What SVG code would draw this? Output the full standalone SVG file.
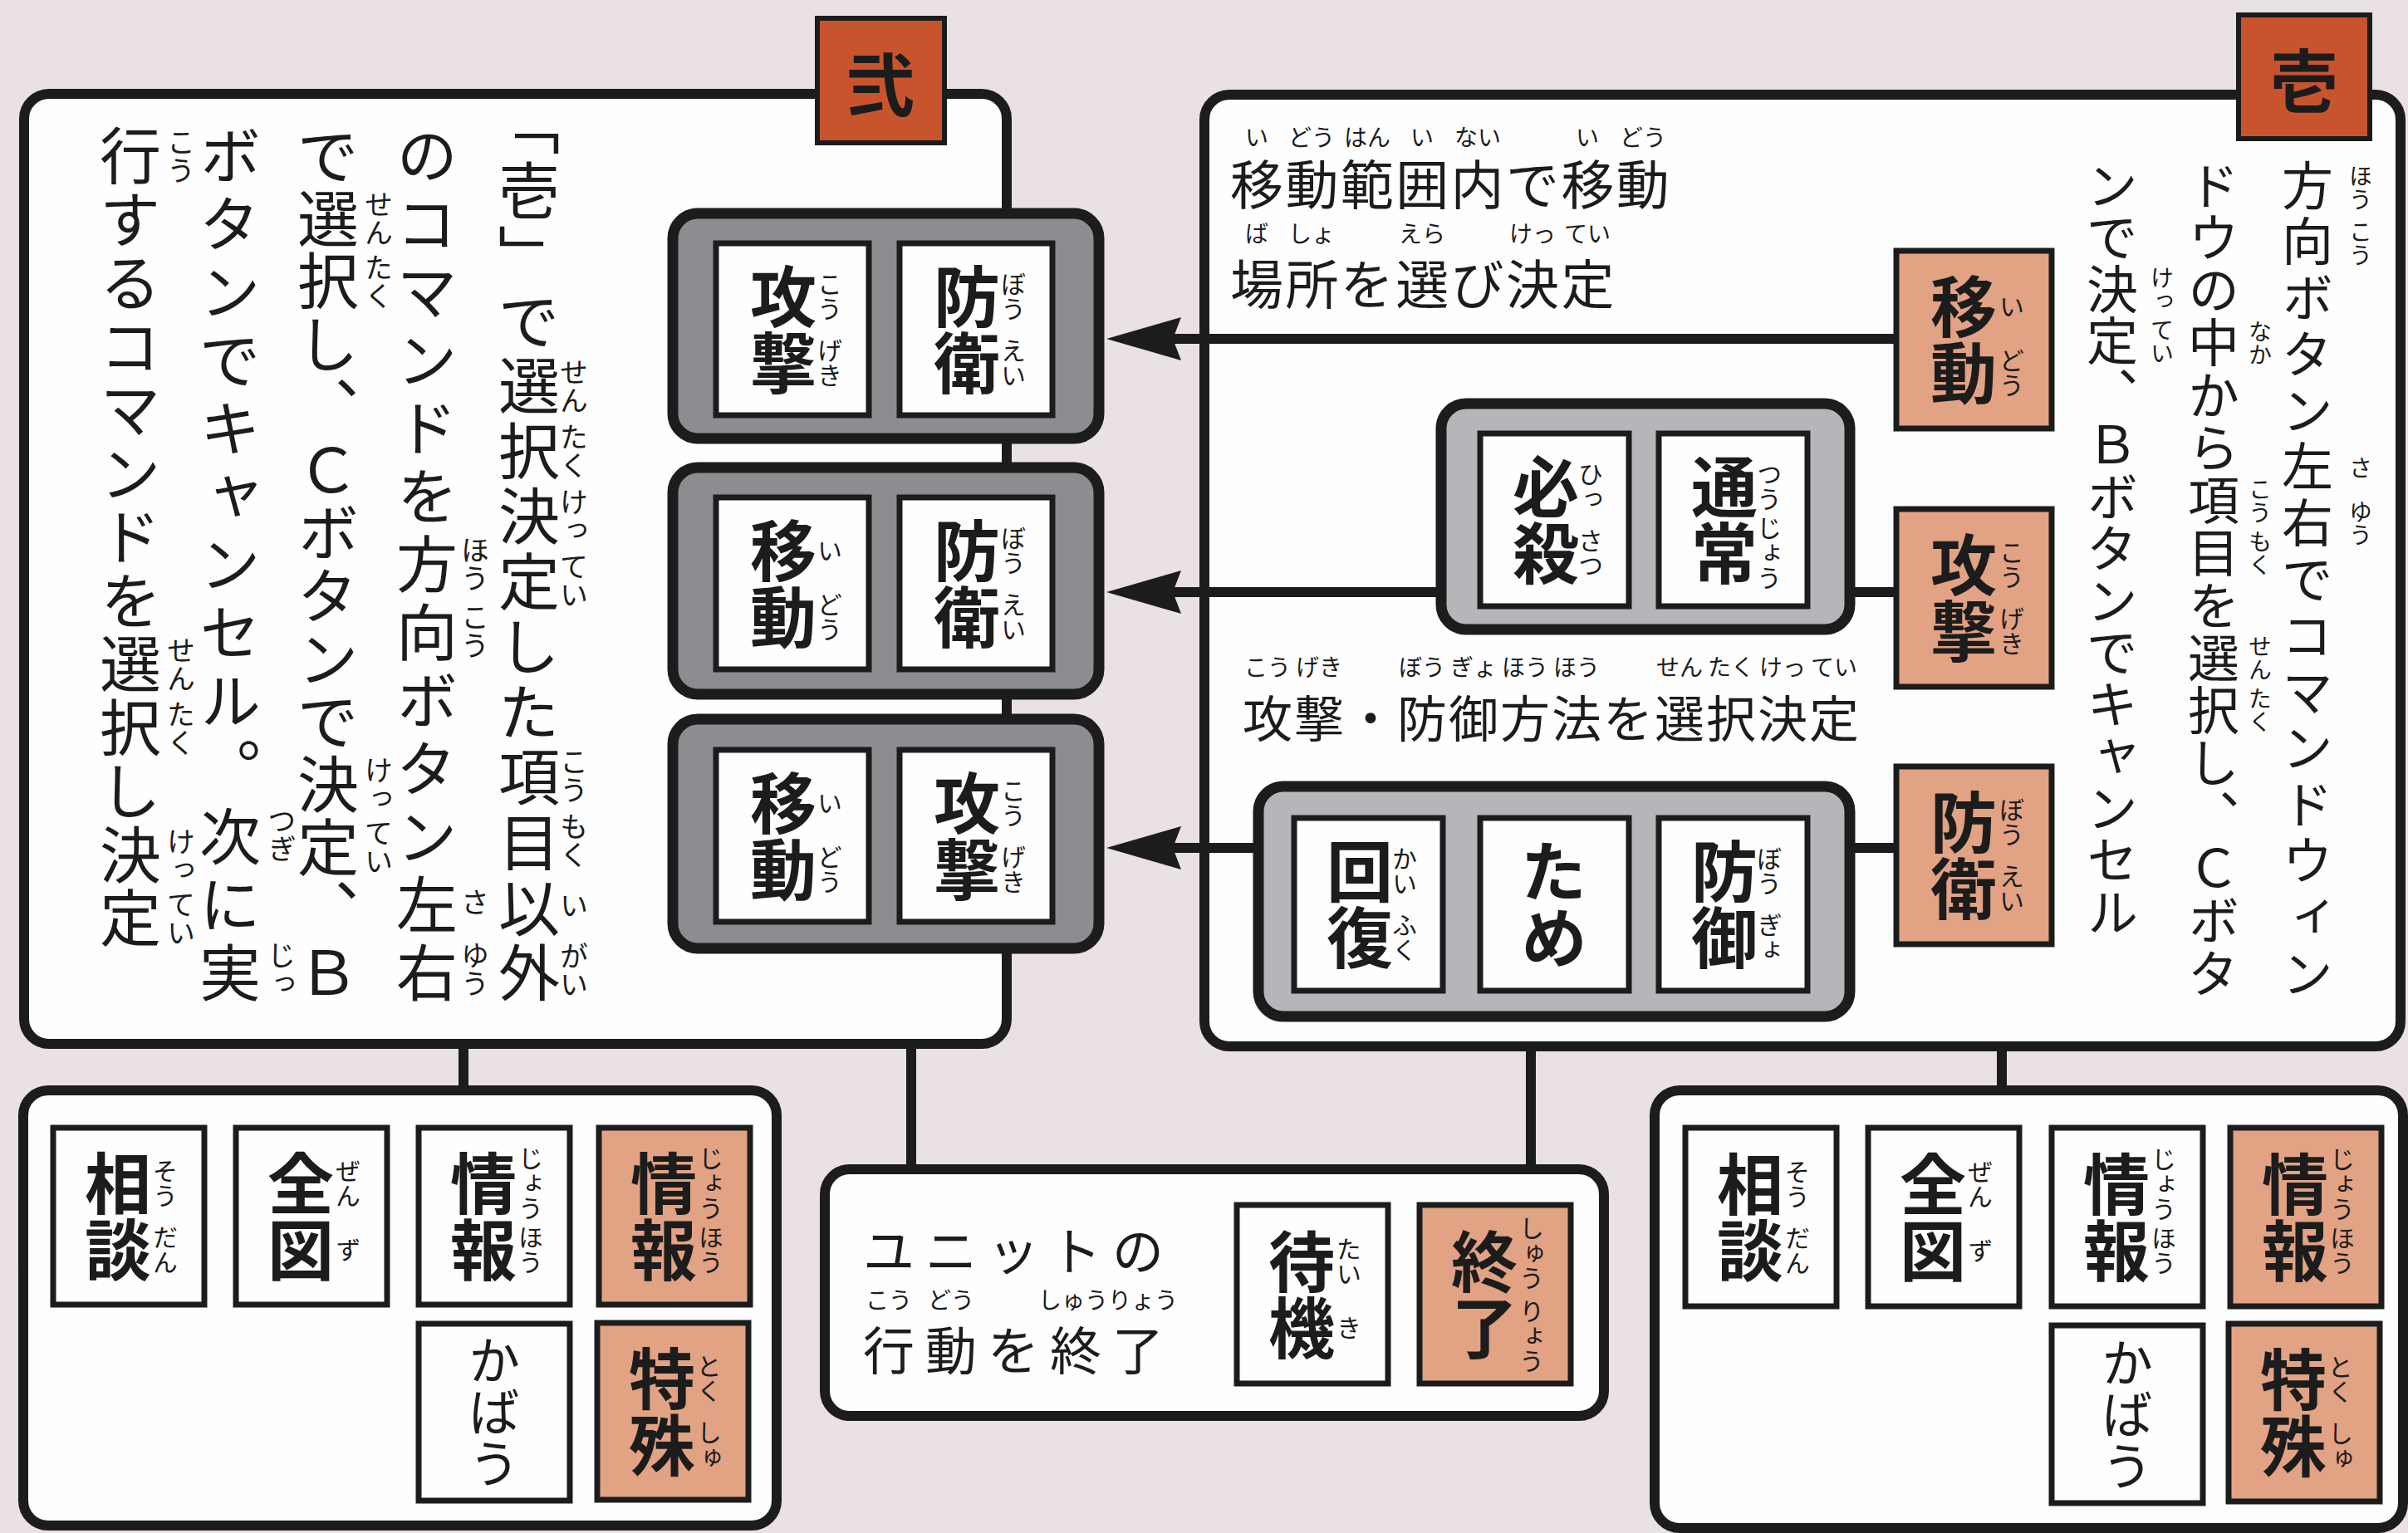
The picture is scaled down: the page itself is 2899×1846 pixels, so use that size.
<svg xmlns="http://www.w3.org/2000/svg" width="2899" height="1846" viewBox="0 0 2899 1846">
<style>
text{font-family:"Noto Sans CJK JP","Noto Sans CJK SC",sans-serif;fill:#1c1c1c}
.panel{fill:#fefefe;stroke:#1c1c1c;stroke-width:12}
.tag{fill:#c8542e;stroke:#1c1c1c;stroke-width:6}
.gd{fill:#8d8d91;stroke:#1c1c1c;stroke-width:13}
.gl{fill:#b6b6ba;stroke:#1c1c1c;stroke-width:13}
.wb{fill:#fefefe;stroke:#1c1c1c;stroke-width:7}
.ob{fill:#e2a284;stroke:#1c1c1c;stroke-width:7}
.ln{stroke:#1c1c1c;stroke-width:12;fill:none}
.v{writing-mode:vertical-rl}
.k{font-size:80px;font-weight:700}
.r{font-size:30px}
.m{font-size:74px}
.mr{font-size:62px}
.rl{font-size:34px}
.rr{font-size:28px}
.a{text-anchor:middle}
.half{font-feature-settings:"vhal" 1}
.tg{font-size:82px;font-weight:700;text-anchor:middle;dominant-baseline:central}
.kb{font-size:62px;font-weight:400}
</style>
<defs>
<marker id="ah" markerUnits="userSpaceOnUse" viewBox="0 0 90 56" markerWidth="90" markerHeight="56" refX="62" refY="28" orient="auto">
<path d="M90,28 L0,2 L10,28 L0,54 Z" fill="#1c1c1c"/>
</marker>
</defs>
<rect x="0" y="0" width="2899" height="1846" fill="#e9e1e4"/>

<g id="panel-ni">
<rect class="panel" x="29" y="113" width="1183" height="1144" rx="30"/>
<rect class="tag" x="984" y="22" width="153" height="150"/>
<text class="tg" x="1060" y="97">弐</text>
<text class="v m" x="637" y="150" textLength="1058" lengthAdjust="spacing"><tspan class="half">「</tspan>壱」で選択決定した項目以外</text>
<text class="v m" x="514" y="150" textLength="1058" lengthAdjust="spacing">のコマンドを方向ボタン左右</text>
<text class="v m" x="395" y="150" textLength="1058" lengthAdjust="spacing">で選択し、Ｃボタンで決定、Ｂ</text>
<text class="v m" x="277" y="150" textLength="1058" lengthAdjust="spacing">ボタンでキャンセル。次に実</text>
<text class="v m" x="157" y="150" style="letter-spacing:2.5px">行するコマンドを選択し決定</text>
<text class="v rl" x="691" y="431 465 509 543 587 621 665 699 900 934 978 1012 1073 1134 1168">せんたくけっていこうもくいがい</text>
<text class="v rl" x="572" y="645 679 726 760 1069 1133 1167">ほうこうさゆう</text>
<text class="v rl" x="456" y="229 263 305 339 910 944 986 1020">せんたくけってい</text>
<text class="v rl" x="339" y="971 1005 1133 1167">つぎじっ</text>
<text class="v rl" x="218" y="154 188 766 800 843 877 996 1030 1072 1106">こうせんたくけってい</text>
</g>

<g id="panel-ichi">
<rect class="panel" x="1450" y="114" width="1440" height="1146" rx="30"/>
<rect class="tag" x="2695" y="18" width="158" height="149"/>
<text class="tg" x="2774" y="92">壱</text>
<text class="v mr" x="2778" y="192" textLength="1011" lengthAdjust="spacing">方向ボタン左右でコマンドウィン</text>
<text class="v mr" x="2665" y="192" textLength="1011" lengthAdjust="spacing">ドウの中から項目を選択し、Ｃボタ</text>
<text class="v mr" x="2543" y="192" style="letter-spacing:0.5px">ンで決定、Ｂボタンでキャンセル</text>
<text class="v rr" x="2842" y="198 226 265 293 549 602 630">ほうこうさゆう</text>
<text class="v rr" x="2721" y="385 413 575 603 638 666 764 792 827 855">なかこうもくせんたく</text>
<text class="v rr" x="2603" y="320 348 383 411">けってい</text>
<text x="1481" y="246" style="font-size:64px;letter-spacing:2.4px">移動範囲内で移動</text>
<text class="rr" x="1499 1551 1579 1618 1646 1698 1751 1779 1897 1950 1978" y="176">いどうはんいないいどう</text>
<text x="1481" y="366" style="font-size:64px;letter-spacing:2.4px">場所を選び決定</text>
<text class="rr" x="1499 1551 1579 1684 1712 1817 1845 1883 1911" y="292">ばしょえらけってい</text>
<text x="1496" y="888" style="font-size:60px;letter-spacing:2px">攻撃・防御方法を選択決定</text>
<text class="rr" x="1498 1526 1560 1588 1684 1712 1746 1774 1808 1836 1870 1898 1994 2022 2056 2084 2118 2146 2180 2208" y="814">こうげきぼうぎょほうほうせんたくけってい</text>
</g>

<g id="panel-sub-left">
<rect class="panel" x="28" y="1313" width="907" height="524" rx="30"/>
</g>
<g id="panel-end">
<rect class="panel" x="993" y="1408" width="938" height="297" rx="30"/>
<text x="1039" y="1530" style="font-size:62px;letter-spacing:13px">ユニットの</text>
<text x="1039" y="1650" style="font-size:62px;letter-spacing:13px">行動を終了</text>
<text class="rr" x="1042 1070 1117 1145 1250 1278 1306 1334 1362 1390" y="1576">こうどうしゅうりょう</text>
</g>
<g id="panel-sub-right">
<rect class="panel" x="1992" y="1313" width="901" height="527" rx="30"/>
</g>

<g id="connectors">
<line class="ln" x1="558" y1="1257" x2="558" y2="1313"/>
<line class="ln" x1="1097" y1="1257" x2="1097" y2="1408"/>
<line class="ln" x1="1843" y1="1260" x2="1843" y2="1408"/>
<line class="ln" x1="2410" y1="1260" x2="2410" y2="1313"/>
<line class="ln" x1="2283" y1="408" x2="1360" y2="408" marker-end="url(#ah)"/>
<line class="ln" x1="2283" y1="713" x2="1360" y2="713" marker-end="url(#ah)"/>
<line class="ln" x1="2283" y1="1021" x2="1360" y2="1021" marker-end="url(#ah)"/>
</g>

<g id="group-kougeki-bouei">
<rect class="gd" x="810" y="257" width="513" height="271" rx="30"/>
<rect class="wb" x="862" y="293" width="184" height="207"/>
<text class="v k a" x="943" y="396.5">攻撃</text><text class="v r" x="999" y="326.5 356.5 406.5 436.5">こうげき</text>
<rect class="wb" x="1083" y="293" width="184" height="207"/>
<text class="v k a" x="1164" y="396.5">防衛</text><text class="v r" x="1220" y="326.5 356.5 406.5 436.5">ぼうえい</text>
</g>
<g id="group-idou-bouei">
<rect class="gd" x="810" y="563" width="513" height="273" rx="30"/>
<rect class="wb" x="862" y="599" width="184" height="207"/>
<text class="v k a" x="943" y="702.5">移動</text><text class="v r" x="999" y="647.5 712.5 742.5">いどう</text>
<rect class="wb" x="1083" y="599" width="184" height="207"/>
<text class="v k a" x="1164" y="702.5">防衛</text><text class="v r" x="1220" y="632.5 662.5 712.5 742.5">ぼうえい</text>
</g>
<g id="group-idou-kougeki">
<rect class="gd" x="810" y="866" width="513" height="276" rx="30"/>
<rect class="wb" x="862" y="903" width="184" height="207"/>
<text class="v k a" x="943" y="1006.5">移動</text><text class="v r" x="999" y="951.5 1016.5 1046.5">いどう</text>
<rect class="wb" x="1083" y="903" width="184" height="207"/>
<text class="v k a" x="1164" y="1006.5">攻撃</text><text class="v r" x="1220" y="936.5 966.5 1016.5 1046.5">こうげき</text>
</g>

<g id="group-attack-type">
<rect class="gl" x="1735" y="486" width="492" height="272" rx="30"/>
<rect class="wb" x="1782" y="522" width="179" height="208"/>
<text class="v k a" x="1861" y="626">必殺</text><text class="v r" x="1915" y="556 586 636 666">ひっさつ</text>
<rect class="wb" x="1997" y="522" width="179" height="208"/>
<text class="v k a" x="2076" y="626">通常</text><text class="v r" x="2130" y="556 586 621 651 681">つうじょう</text>
</g>
<g id="group-defense-type">
<rect class="gl" x="1515" y="947" width="712" height="277" rx="30"/>
<rect class="wb" x="1558" y="985" width="179" height="208"/>
<text class="v k a" x="1637" y="1089">回復</text><text class="v r" x="1691" y="1019 1049 1099 1129">かいふく</text>
<rect class="wb" x="1782" y="985" width="179" height="208"/>
<text class="v k a" x="1871" y="1089">ため</text>
<rect class="wb" x="1997" y="985" width="179" height="208"/>
<text class="v k a" x="2076" y="1089">防御</text><text class="v r" x="2130" y="1019 1049 1099 1129">ぼうぎょ</text>
</g>

<g id="cmd-idou">
<rect class="ob" x="2283" y="302" width="187" height="214"/>
<text class="v k a" x="2364" y="409">移動</text><text class="v r" x="2422" y="354 419 449">いどう</text>
</g>
<g id="cmd-kougeki">
<rect class="ob" x="2283" y="613" width="187" height="214"/>
<text class="v k a" x="2364" y="720">攻撃</text><text class="v r" x="2422" y="650 680 730 760">こうげき</text>
</g>
<g id="cmd-bouei">
<rect class="ob" x="2283" y="923" width="187" height="214"/>
<text class="v k a" x="2364" y="1030">防衛</text><text class="v r" x="2422" y="960 990 1040 1070">ぼうえい</text>
</g>

<g id="sub-left-boxes">
<rect class="wb" x="64" y="1358" width="182" height="213"/>
<text class="v k a" x="142" y="1464.5">相談</text><text class="v r" x="199" y="1394.5 1424.5 1474.5 1504.5">そうだん</text>
<rect class="wb" x="284" y="1358" width="182" height="213"/>
<text class="v k a" x="362" y="1464.5">全図</text><text class="v r" x="419" y="1394.5 1424.5 1489.5">ぜんず</text>
<rect class="wb" x="504" y="1358" width="182" height="213"/>
<text class="v k a" x="582" y="1464.5">情報</text><text class="v r" x="639" y="1379.5 1409.5 1439.5 1474.5 1504.5">じょうほう</text>
<rect class="ob" x="721" y="1358" width="182" height="213"/>
<text class="v k a" x="799" y="1464.5">情報</text><text class="v r" x="856" y="1379.5 1409.5 1439.5 1474.5 1504.5">じょうほう</text>
<rect class="wb" x="504" y="1594" width="182" height="213"/>
<text class="v kb a" x="595" y="1700.5">かばう</text>
<rect class="ob" x="719" y="1593" width="182" height="213"/>
<text class="v k a" x="797" y="1699.5">特殊</text><text class="v r" x="854" y="1629.5 1659.5 1709.5 1739.5">とくしゅ</text>
</g>

<g id="end-boxes">
<rect class="wb" x="1489" y="1451" width="182" height="215"/>
<text class="v k a" x="1567" y="1558.5">待機</text><text class="v r" x="1624" y="1488.5 1518.5 1583.5">たいき</text>
<rect class="ob" x="1709" y="1451" width="182" height="215"/>
<text class="v k a" x="1787" y="1558.5">終了</text><text class="v r" x="1844" y="1463.5 1493.5 1523.5 1563.5 1593.5 1623.5">しゅうりょう</text>
</g>

<g id="sub-right-boxes">
<rect class="wb" x="2029" y="1358" width="182" height="215"/>
<text class="v k a" x="2107" y="1465.5">相談</text><text class="v r" x="2164" y="1395.5 1425.5 1475.5 1505.5">そうだん</text>
<rect class="wb" x="2249" y="1358" width="182" height="215"/>
<text class="v k a" x="2327" y="1465.5">全図</text><text class="v r" x="2384" y="1395.5 1425.5 1490.5">ぜんず</text>
<rect class="wb" x="2470" y="1358" width="182" height="215"/>
<text class="v k a" x="2548" y="1465.5">情報</text><text class="v r" x="2605" y="1380.5 1410.5 1440.5 1475.5 1505.5">じょうほう</text>
<rect class="ob" x="2685" y="1358" width="182" height="215"/>
<text class="v k a" x="2763" y="1465.5">情報</text><text class="v r" x="2820" y="1380.5 1410.5 1440.5 1475.5 1505.5">じょうほう</text>
<rect class="wb" x="2470" y="1596" width="182" height="214"/>
<text class="v kb a" x="2561" y="1703">かばう</text>
<rect class="ob" x="2683" y="1594" width="182" height="214"/>
<text class="v k a" x="2761" y="1701">特殊</text><text class="v r" x="2818" y="1631 1661 1711 1741">とくしゅ</text>
</g>
</svg>
